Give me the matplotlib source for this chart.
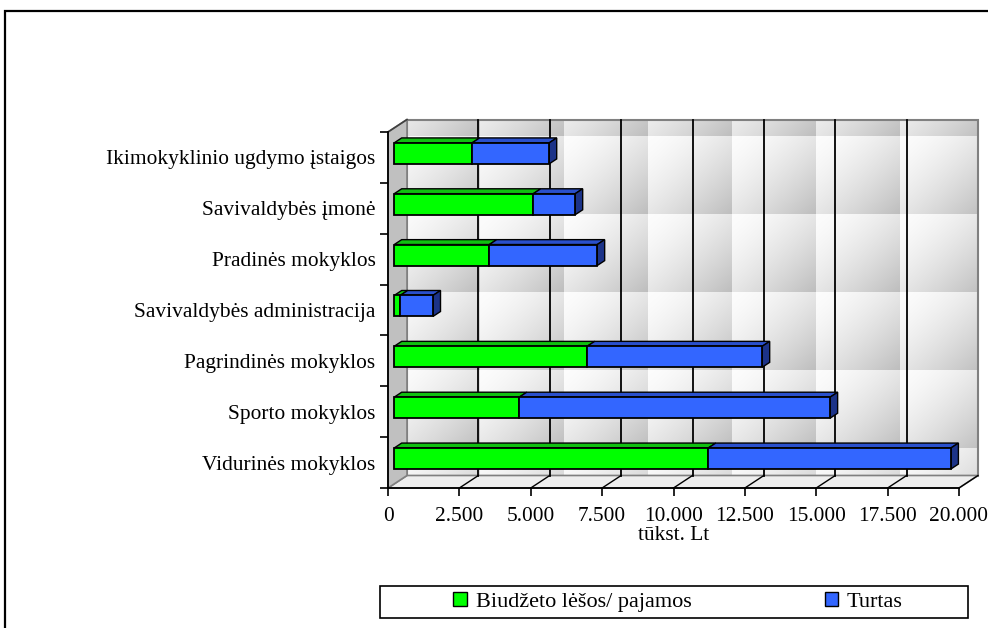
import numpy as np
import matplotlib
matplotlib.use("Agg")
import matplotlib.pyplot as plt
from matplotlib.patches import Polygon, Rectangle, Patch
from matplotlib.ticker import FuncFormatter

plt.rcParams['font.family'] = ['Liberation Serif', 'DejaVu Serif']

# categories from top to bottom, values in thousand Lt
categories = ["Ikimokyklinio ugdymo įstaigos", "Savivaldybės įmonė", "Pradinės mokyklos",
              "Savivaldybės administracija", "Pagrindinės mokyklos", "Sporto mokyklos",
              "Vidurinės mokyklos"]
biudzetas = [2730, 4870, 3330, 210, 6760, 4380, 11000]
turtas = [2700, 1470, 3780, 1150, 6130, 10890, 8500]
series_names = ["Biudžeto lėšos/ pajamos", "Turtas"]
xticks = [0, 2500, 5000, 7500, 10000, 12500, 15000, 17500, 20000]

W, H = 988, 628
FS = 15.4
front_col = ["#00FF00", "#3366FF"]
top_col = ["#10C010", "#2A50CC"]
side_col = ["#0A8A0A", "#1C3388"]

fig = plt.figure(figsize=(W / 100, H / 100), dpi=100)
fig.patch.set_facecolor("white")

# front plane of the 3-D box, in pixels
X0, X1, YT, YB = 388, 959, 132, 488
ax = fig.add_axes([X0 / W, 1 - YB / H, (X1 - X0) / W, (YB - YT) / H])
XMAX, NC = 20000, len(categories)
ax.set_xlim(0, XMAX)
ax.set_ylim(0, NC)
ax.patch.set_visible(False)

# depth vector of the box (19 px right, 12.5 px up) in data units
DX = 19 * XMAX / (X1 - X0)
DY = 12.5 * NC / (YB - YT)


def poly(pts, **kw):
    p = Polygon(pts, closed=True, clip_on=False, **kw)
    ax.add_patch(p)
    return p


# back wall texture: tiled diagonal gradient
bw_w, bw_h = X1 - X0, YB - YT
jj, ii = np.meshgrid(np.arange(bw_w), np.arange(bw_h))
px = X0 + 19 + jj
py = YT - 12 + ii
u = ((px - 396) % 84) / 84.0
v = ((py - 136) % 78) / 78.0
t = np.clip((u + v) / 2.0, 0, 1)
shade = 0.99 - 0.25 * t ** 1.5
tex = np.dstack([shade, shade, shade])
im = ax.imshow(tex, extent=(DX, XMAX + DX, DY, NC + DY), origin="upper",
               aspect="auto", zorder=0, interpolation="nearest")
im.set_clip_on(False)
ax.set_xlim(0, XMAX)
ax.set_ylim(0, NC)

ax.add_patch(Rectangle((DX, DY), XMAX, NC, fill=False, ec="#808080", lw=1.5,
                       zorder=1, clip_on=False))

# floor and left wall
poly([(0, 0), (XMAX, 0), (XMAX + DX, DY), (DX, DY)], fc="#EEEEEE", ec="#808080",
     lw=1.2, zorder=1)
poly([(0, 0), (0, NC), (DX, NC + DY), (DX, DY)], fc="#C0C0C0", ec="#808080",
     lw=1.2, zorder=1)
ax.plot([0, DX], [NC, NC + DY], color="#404040", lw=1.2, zorder=2, clip_on=False)

# grid lines on back wall and floor
for x in xticks[1:-1]:
    ax.plot([x + DX, x + DX], [DY, NC + DY], color="black", lw=1.3, zorder=2,
            clip_on=False)
for x in xticks[1:]:
    ax.plot([x, x + DX], [0, DY], color="black", lw=1.0, zorder=2, clip_on=False)

# stacked 3-D bars
bh = 0.413
d0, d1 = 0.33, 0.72
for k, (b, t_) in enumerate(zip(biudzetas, turtas)):
    yc = NC - k - 0.5
    y0, y1 = yc - bh / 2, yc + bh / 2
    segs = [(0, b), (b, b + t_)]
    for s, (a, c) in enumerate(segs):
        poly([(a + d0 * DX, y0 + d0 * DY), (c + d0 * DX, y0 + d0 * DY),
              (c + d0 * DX, y1 + d0 * DY), (a + d0 * DX, y1 + d0 * DY)],
             fc=front_col[s], ec="black", lw=1.3, zorder=4)
        poly([(a + d0 * DX, y1 + d0 * DY), (c + d0 * DX, y1 + d0 * DY),
              (c + d1 * DX, y1 + d1 * DY), (a + d1 * DX, y1 + d1 * DY)],
             fc=top_col[s], ec="black", lw=1.0, zorder=3)
    c = b + t_
    poly([(c + d0 * DX, y0 + d0 * DY), (c + d1 * DX, y0 + d1 * DY),
          (c + d1 * DX, y1 + d1 * DY), (c + d0 * DX, y1 + d0 * DY)],
         fc=side_col[1], ec="black", lw=1.0, zorder=3)

# axes: front edge and left edge
for s in ["top", "right"]:
    ax.spines[s].set_visible(False)
for s in ["bottom", "left"]:
    ax.spines[s].set_color("black")
    ax.spines[s].set_linewidth(1.3)
    ax.spines[s].set_zorder(5)

ax.set_xticks(xticks)
ax.xaxis.set_major_formatter(FuncFormatter(lambda v, p: f"{int(v):,}".replace(",", ".")))
ax.tick_params(axis="x", direction="out", length=6, width=1.2, labelsize=FS, pad=8)
ax.set_yticks(np.arange(NC + 1))
ax.set_yticks(np.arange(NC) + 0.5, minor=True)
ax.set_yticklabels([""] * (NC + 1))
ax.set_yticklabels(categories[::-1], minor=True)
ax.tick_params(axis="y", which="major", direction="out", length=6, width=1.2)
ax.tick_params(axis="y", which="minor", length=0, labelsize=FS, pad=9)
ax.set_xlabel("tūkst. Lt", fontsize=FS, labelpad=0)

# legend with its own box
fig.add_artist(Rectangle((380 / W, 1 - 618 / H), 588 / W, 32 / H, fill=False,
                         ec="black", lw=1.2, transform=fig.transFigure))
handles = [Patch(fc=front_col[i], ec="black", lw=1.0) for i in range(2)]
fig.legend(handles, series_names, loc="center", bbox_to_anchor=(678 / W, 1 - 602 / H),
           ncol=2, frameon=False, fontsize=16, columnspacing=6.0, handlelength=0.6,
           handleheight=0.6, handletextpad=0.4)

# outer frame of the chart area
fig.add_artist(Rectangle((5 / W, -0.1), 1.2, 1.1 - 11 / H, fill=False, ec="black",
                         lw=1.6, transform=fig.transFigure))

fig.savefig("out.png", dpi=100)
